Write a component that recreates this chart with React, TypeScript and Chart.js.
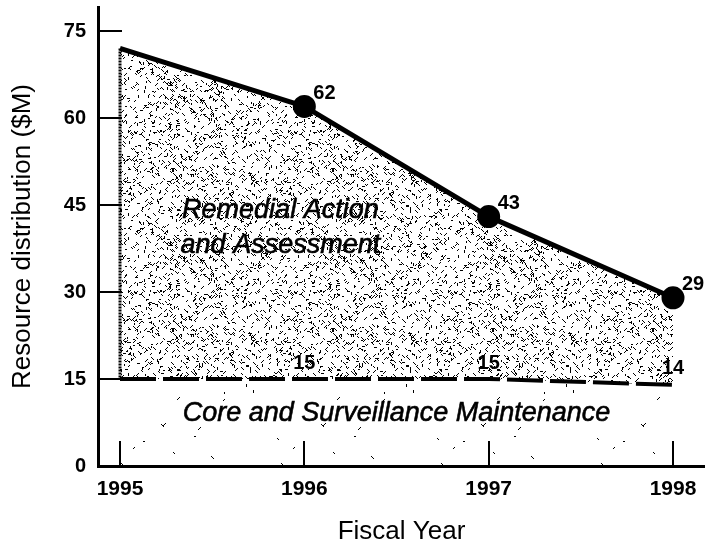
import React, { useEffect, useRef } from "react";
import { Chart, registerables } from "chart.js";

Chart.register(...registerables);

// ---- data ----
const years = [1995, 1996, 1997, 1998];
const remedialTotals = [72, 62, 43, 29];
const coreValues = [15, 15, 15, 14];
const markerSizes = [0, 9, 9, 9];
const topLabels = ["", "62", "43", "29"];
const coreLabels = ["", "15", "15", "14"];
const yTickValues = [0, 15, 30, 45, 60, 75];
const remedialText = ["Remedial Action", "and Assessment"];
const coreText = "Core and Surveillance Maintenance";

const FONT = '"Liberation Sans", Arial, Helvetica, sans-serif';

function makeStipple(ctx: CanvasRenderingContext2D, size: number, count: number, seed: number) {
  const c = document.createElement("canvas");
  c.width = size;
  c.height = size;
  const g = c.getContext("2d")!;
  let s = seed;
  const rnd = () => {
    s = (s * 16807) % 2147483647;
    return s / 2147483647;
  };
  g.fillStyle = "#000";
  const dirs = [
    [1, 1],
    [1, -1],
    [1, 0],
    [1, 1],
    [1, -1],
    [0, 1],
  ];
  for (let i = 0; i < count; i++) {
    const x = Math.floor(rnd() * size);
    const y = Math.floor(rnd() * size);
    const d = dirs[Math.floor(rnd() * dirs.length)];
    const len = 2 + Math.floor(rnd() * 2);
    for (let k = 0; k < len; k++) {
      g.fillRect((x + d[0] * k + size) % size, (y + d[1] * k + size) % size, 1, 1);
    }
  }
  return ctx.createPattern(c, "repeat");
}

const annotate = {
  id: "annotate",
  afterDatasetsDraw(chart: any) {
    const { ctx, scales } = chart;
    const x = scales.x;
    const y = scales.y;
    ctx.save();
    // dense left edge of the stippled area
    ctx.strokeStyle = "#000";
    ctx.lineWidth = 3;
    ctx.setLineDash([2, 1]);
    const px0 = x.getPixelForValue(years[0]);
    ctx.beginPath();
    ctx.moveTo(px0, y.getPixelForValue(remedialTotals[0]));
    ctx.lineTo(px0, y.getPixelForValue(coreValues[0]));
    ctx.stroke();
    ctx.restore();
  },
  afterDraw(chart: any) {
    const { ctx, chartArea, scales } = chart;
    const x = scales.x;
    const y = scales.y;
    ctx.save();
    ctx.strokeStyle = "#000";
    ctx.lineWidth = 2;
    ctx.setLineDash([]);
    // inward tick marks
    yTickValues.forEach((v) => {
      const py = Math.round(y.getPixelForValue(v));
      ctx.beginPath();
      ctx.moveTo(chartArea.left, py);
      ctx.lineTo(chartArea.left + 24, py);
      ctx.stroke();
    });
    years.forEach((v) => {
      const px = Math.round(x.getPixelForValue(v));
      ctx.beginPath();
      ctx.moveTo(px, chartArea.bottom);
      ctx.lineTo(px, chartArea.bottom - 25);
      ctx.stroke();
    });
    // value labels
    ctx.fillStyle = "#000";
    ctx.font = `bold 20px ${FONT}`;
    ctx.textBaseline = "middle";
    ctx.textAlign = "left";
    years.forEach((yr, i) => {
      if (!topLabels[i]) return;
      const px = x.getPixelForValue(yr);
      const py = y.getPixelForValue(remedialTotals[i]);
      ctx.fillText(topLabels[i], px + 9, py - 13);
    });
    ctx.textAlign = "center";
    years.forEach((yr, i) => {
      if (!coreLabels[i]) return;
      const px = x.getPixelForValue(yr);
      const py = y.getPixelForValue(coreValues[i]);
      ctx.fillText(coreLabels[i], px, py - 16);
    });
    // area captions
    ctx.font = `italic 27px ${FONT}`;
    ctx.lineWidth = 0.6;
    const rx = x.getPixelForValue(1995.87);
    const ry = y.getPixelForValue(41);
    const caption = (t: string, cx: number, cy: number) => {
      ctx.fillText(t, cx, cy);
      ctx.strokeText(t, cx, cy);
    };
    caption(remedialText[0], rx, ry - 18);
    caption(remedialText[1], rx, ry + 17);
    caption(coreText, x.getPixelForValue(1996.5), y.getPixelForValue(9.0));
    ctx.restore();
  },
};

export default function App() {
  const ref = useRef<HTMLCanvasElement | null>(null);

  useEffect(() => {
    document.body.style.margin = "0";
    const canvas = ref.current!;
    const ctx = canvas.getContext("2d")!;
    const dense = makeStipple(ctx, 160, 1300, 987654);
    const sparse = makeStipple(ctx, 160, 28, 424242);

    const chart = new Chart(canvas, {
      type: "line",
      data: {
        datasets: [
          {
            label: "Remedial Action and Assessment",
            data: years.map((yr, i) => ({ x: yr, y: remedialTotals[i] })),
            borderColor: "#000",
            borderWidth: 5,
            borderJoinStyle: "round",
            pointRadius: markerSizes,
            pointHoverRadius: markerSizes,
            pointBackgroundColor: "#000",
            pointBorderColor: "#000",
            backgroundColor: dense as any,
            fill: 1,
            tension: 0,
          },
          {
            label: "Core and Surveillance Maintenance",
            data: years.map((yr, i) => ({ x: yr, y: coreValues[i] })),
            borderColor: "#000",
            borderWidth: 4,
            borderDash: [36, 7],
            pointRadius: 0,
            backgroundColor: sparse as any,
            fill: "origin",
            tension: 0,
          },
        ],
      },
      options: {
        responsive: false,
        animation: false,
        layout: { autoPadding: false, padding: { top: 7, left: 0, right: 0, bottom: 0 } },
        plugins: {
          legend: { display: false },
          tooltip: { enabled: false },
        },
        scales: {
          x: {
            type: "linear",
            min: 1994.8806,
            max: 1998.1736,
            grid: { display: false, drawTicks: false },
            border: { display: true, color: "#000", width: 3 },
            afterBuildTicks: (s: any) => {
              s.ticks = years.map((v) => ({ value: v }));
            },
            afterFit: (s: any) => {
              s.height = 81;
              s.paddingLeft = 0;
              s.paddingRight = 0;
            },
            ticks: {
              color: "#000",
              font: { family: FONT, size: 21, weight: "bold" },
              padding: 11,
              autoSkip: false,
              maxRotation: 0,
              callback: (v: any) => String(v),
            },
            title: {
              display: true,
              text: "Fiscal Year",
              color: "#000",
              font: { family: FONT, size: 26 },
              padding: { top: 0, bottom: 0 },
            },
          },
          y: {
            type: "linear",
            min: 0,
            max: 79.14,
            grid: { display: false, drawTicks: false },
            border: { display: true, color: "#000", width: 3 },
            afterBuildTicks: (s: any) => {
              s.ticks = yTickValues.map((v) => ({ value: v }));
            },
            afterFit: (s: any) => {
              s.width = 98;
              s.paddingTop = 0;
              s.paddingBottom = 0;
            },
            ticks: {
              color: "#000",
              font: { family: FONT, size: 20, weight: "bold" },
              padding: 12,
              callback: (v: any) => String(v),
            },
            title: {
              display: true,
              text: "Resource distribution ($M)",
              color: "#000",
              font: { family: FONT, size: 26 },
              padding: { top: 7, bottom: 0 },
            },
          },
        },
      },
      plugins: [annotate],
    });
    return () => chart.destroy();
  }, []);

  return (
    <div style={{ width: 705, height: 547, background: "#fff" }}>
      <canvas ref={ref} width={705} height={547} style={{ width: 705, height: 547, display: "block" }} />
    </div>
  );
}
